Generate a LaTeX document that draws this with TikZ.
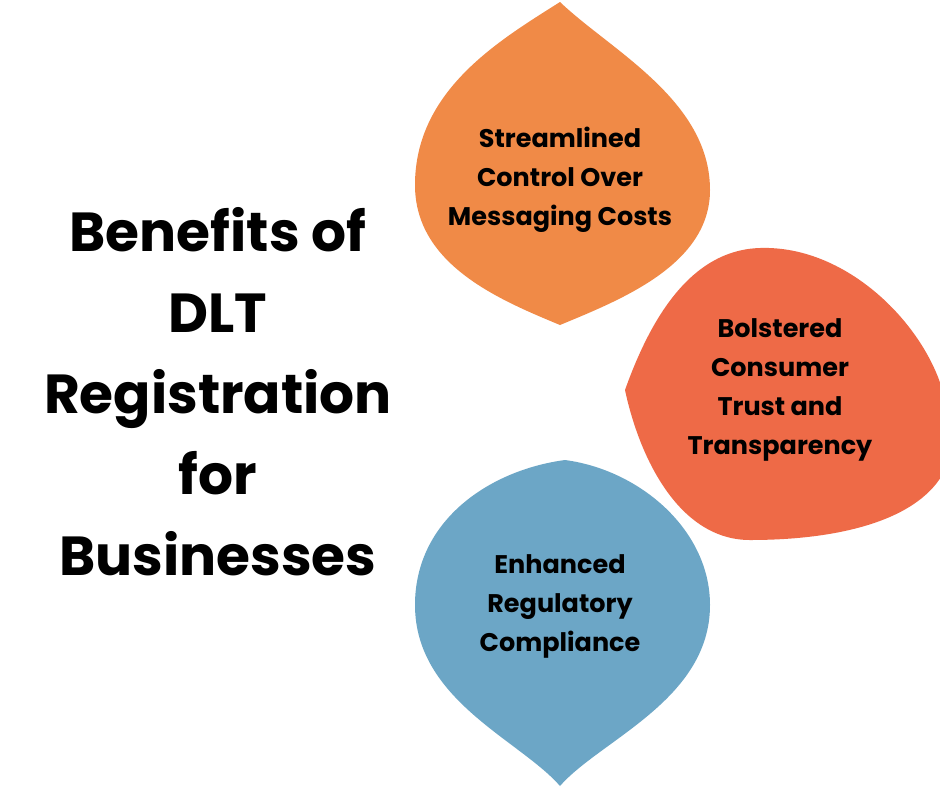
\documentclass[tikz,border=0pt]{standalone}
\usepackage{fontspec}
\setmainfont{Poppins}
\definecolor{orng}{HTML}{F08A47}
\definecolor{rd}{HTML}{EE6A47}
\definecolor{bl}{HTML}{6CA6C6}
\begin{document}
\begin{tikzpicture}[x=1pt,y=-1pt,
  leaftxt/.style={align=center,font=\fontsize{25.5}{39}\selectfont\bfseries}]
\useasboundingbox[fill=white] (0,0) rectangle (940,788);
\begin{scope}
\clip (0,0) rectangle (940,788);
\fill[orng] (560,2) .. controls (610,50) and (710,100) .. (710,190) .. controls (710,265) and (620,300) .. (560,325) .. controls (500,300) and (415,265) .. (415,185) .. controls (415,90) and (500,40) .. (560,2) -- cycle;
\fill[rd] (625,390) .. controls (650,320) and (690,250) .. (760,248) .. controls (850,245) and (930,330) .. (945,400) -- (945,470) .. controls (920,520) and (840,540) .. (750,540) .. controls (680,540) and (640,460) .. (625,390) -- cycle;
\fill[bl] (565,460) .. controls (640,470) and (710,530) .. (710,605) .. controls (710,700) and (600,740) .. (560,786) .. controls (520,740) and (415,700) .. (415,605) .. controls (415,520) and (490,470) .. (565,460) -- cycle;
\end{scope}
\node[align=center,font=\fontsize{55}{81}\selectfont\bfseries] (title) at (218,392) {Benefits of\\DLT\\Registration\\for\\Businesses};
\node[leaftxt] (a) at (560,180) {Streamlined\\Control Over\\Messaging Costs};
\node[leaftxt] (b) at (780,390) {Bolstered\\Consumer\\Trust and\\Transparency};
\node[leaftxt] (c) at (560,606) {Enhanced\\Regulatory\\Compliance};
\end{tikzpicture}
\end{document}
